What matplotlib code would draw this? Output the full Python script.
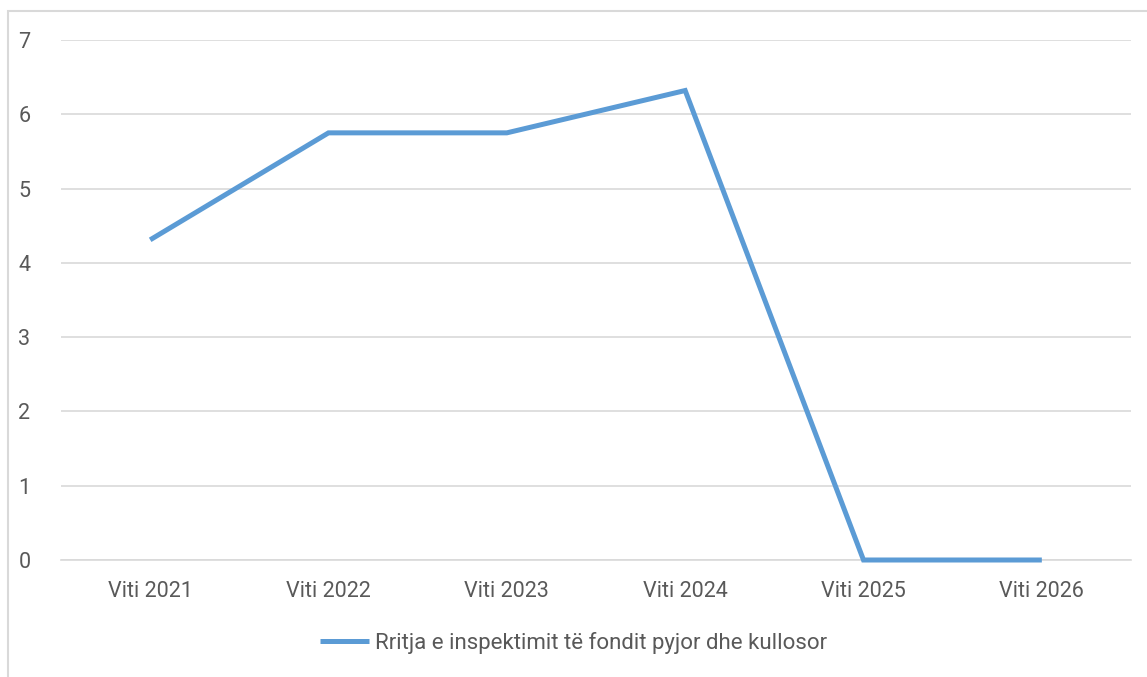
import numpy as np
from matplotlib import pyplot as plt
from matplotlib.patches import Rectangle

years = ["Viti 2021", "Viti 2022", "Viti 2023", "Viti 2024", "Viti 2025", "Viti 2026"]
values = [4.31, 5.75, 5.75, 6.32, 0.0, 0.0]
series_name = "Rritja e inspektimit të fondit pyjor dhe kullosor"

W, H = 1147, 677
fig = plt.figure(figsize=(W / 100, H / 100), dpi=100)
plt.rcParams['font.family'] = ['Roboto', 'DejaVu Sans']

# chart frame (only left and top edges are inside the image)
fig.patches.append(Rectangle((8 / W, -0.1), 1.2, 1 - 11 / H + 0.1, transform=fig.transFigure,
                             fill=False, edgecolor="#d9d9d9", linewidth=1.5))

ax = fig.add_axes([61 / W, 1 - 560 / H, (1131 - 61) / W, (560 - 40) / H])
x = np.arange(len(years))
line, = ax.plot(x, values, color="#5b9bd5", linewidth=3.6, solid_joinstyle="miter",
                solid_capstyle="butt", label=series_name, clip_on=False, zorder=3)

ax.set_xlim(-0.5, len(years) - 0.5)
ax.set_ylim(0, 7)
ax.set_yticks(range(0, 8))
ax.set_xticks(x)
ax.set_xticklabels(years)
ax.yaxis.grid(True, color="#d9d9d9", linewidth=1.2)
ax.set_axisbelow(True)
for s in ["top", "right", "left"]:
    ax.spines[s].set_visible(False)
ax.spines["bottom"].set_color("#d9d9d9")
ax.spines["bottom"].set_linewidth(1.2)
ax.tick_params(axis="both", length=0, labelsize=15.5, colors="#595959")
ax.tick_params(axis="y", pad=22)
ax.tick_params(axis="x", pad=15)

fig.legend(handles=[line], loc="center", bbox_to_anchor=(0.5, 1 - 643 / H), frameon=False,
           fontsize=16, labelcolor="#595959", handlelength=2.2, handletextpad=0.3)

fig.savefig("out.png", dpi=100)
